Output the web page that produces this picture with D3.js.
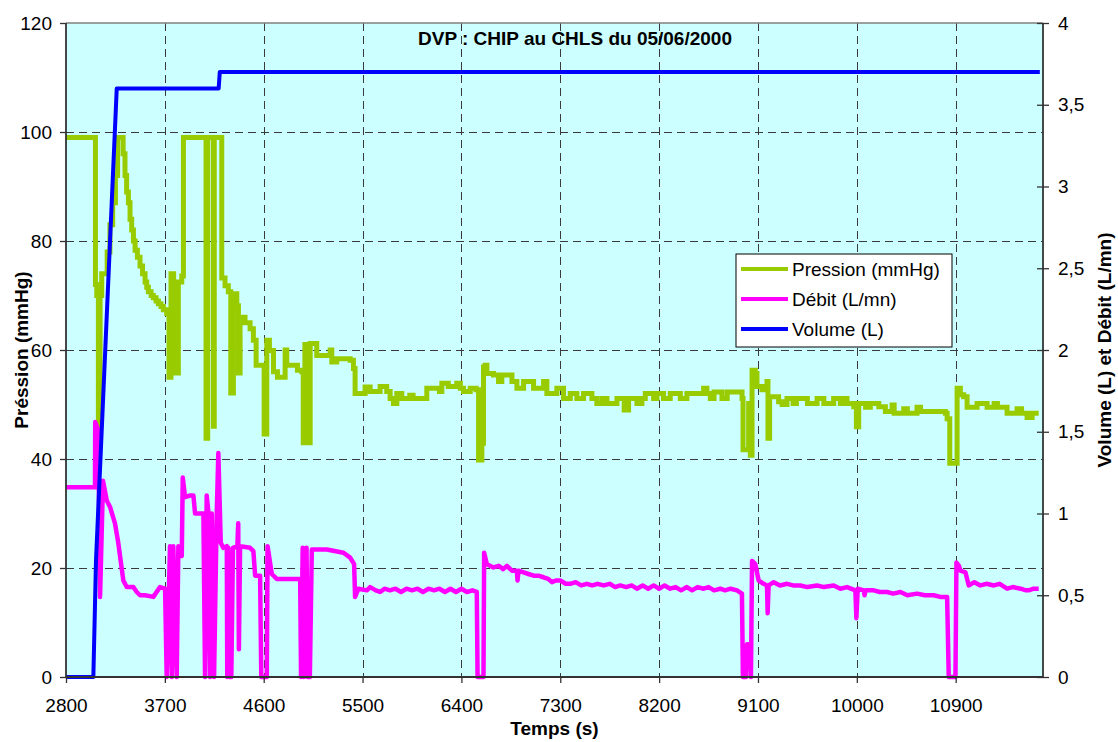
<!DOCTYPE html>
<html>
<head>
<meta charset="utf-8">
<script src="https://cdn.jsdelivr.net/npm/d3@7"></script>
<style>
  body { margin: 0; background: #fff; }
  svg { display: block; font-family: Arial, "Liberation Sans", sans-serif; }
</style>
</head>
<body>
<div id="chart"></div>
<script>
// axis ticks
const xTicks = [2800, 3700, 4600, 5500, 6400, 7300, 8200, 9100, 10000, 10900];
const leftTicks = [0, 20, 40, 60, 80, 100, 120];
const rightTicks = [0, 0.5, 1, 1.5, 2, 2.5, 3, 3.5, 4];
const seriesNames = ["Pression (mmHg)", "Débit (L/mn)", "Volume (L)"];

// Pression (mmHg), left axis
const timePression = [2800, 3064, 3068, 3080, 3095, 3110, 3125, 3150, 3175, 3200, 3225, 3250, 3270, 3305, 3320, 3337, 3352, 3368, 3383, 3398,
  3414, 3429, 3450, 3474, 3497, 3520, 3535, 3550, 3575, 3595, 3620, 3641, 3665, 3686, 3717, 3738, 3756, 3780, 3799, 3823,
  3854, 3869, 4066, 4075, 4090, 4135, 4142, 4150, 4203, 4218, 4248, 4278,
  4300, 4324, 4355, 4370, 4385, 4430, 4476, 4506, 4531, 4567, 4604, 4628, 4652, 4689, 4725, 4765, 4795, 4810, 4886, 4907,
  4947, 4960, 4975, 4990, 5007, 5023, 5083, 5190, 5205, 5220, 5265, 5387, 5417, 5432, 5508, 5523, 5569, 5660, 5720, 5751,
  5781, 5812, 5857, 5930, 5960, 6070, 6085, 6200, 6222, 6280, 6358, 6390, 6419, 6480, 6534, 6556, 6586, 6601, 6616, 6632,
  6692, 6738, 6768, 6844, 6860, 6905, 6966, 7057, 7148, 7178, 7269, 7330, 7391, 7451, 7512, 7588, 7633, 7680, 7725, 7816,
  7882, 7922, 7998, 8043, 8074, 8150, 8180, 8240, 8301, 8393, 8453, 8605, 8635, 8666, 8700, 8772, 8820, 8924, 8955, 8964,
  9000, 9015, 9030, 9046, 9076, 9091, 9137, 9160, 9182, 9191, 9206, 9288, 9320, 9364, 9420, 9450, 9550, 9638, 9700, 9789,
  9850, 9880, 9911, 9972, 9996, 10017, 10080, 10123, 10200, 10260, 10321, 10340, 10427, 10460, 10548, 10580, 10700, 10806, 10822, 10846,
  10898, 10913, 10943, 10973, 11004, 11095, 11186, 11250, 11280, 11368, 11459, 11500, 11550, 11596, 11656];
const pression = [99, 99, 72, 70, 45, 70, 74, 74, 78, 83, 87, 92, 99, 99, 96, 92, 89, 87, 84, 82,
  80, 78.3, 77, 75.4, 74, 72.5, 71.5, 70.7, 70, 69.6, 69, 68.5, 68, 67.4, 66.7, 55, 74, 72.5, 55.8, 72.5,
  73.6, 99, 99, 43.8, 99, 99, 46, 99, 99, 73.2, 71.8, 70.7,
  52.1, 70.3, 68.1, 55.8, 66, 65, 63.9, 61.8, 57.2, 57.2, 44.6, 61.8, 59.9, 56, 55, 55, 60, 57.2, 57.2, 56.3,
  56, 43, 61, 43, 43, 61.2, 59, 59, 60, 57.8, 58.4, 58.1, 56.6, 52, 52, 53.2, 52.4, 53.3, 52.4, 51.1,
  50.2, 52, 51.1, 51.7, 51.1, 51.1, 53, 52.4, 53.9, 53.3, 53.9, 53, 52.4, 53, 52.7, 39.8, 42.9, 56.9, 57.2, 55.7,
  55.4, 54.2, 55.4, 55.4, 54.2, 53, 54.2, 53, 54.2, 52, 53, 51.1, 52, 51.1, 52, 51.1, 50.2, 51.1, 50.2, 51.1,
  49, 51.1, 50.2, 51.1, 52, 51.1, 52, 51.1, 52, 51.1, 52, 53, 52, 51.1, 52.3, 51.1, 52.3, 52.3, 51.1, 41.7,
  41.7, 50.2, 40.7, 56.3, 55.7, 53.3, 52.7, 52.7, 54.2, 43.8, 51.4, 50.5, 50, 51.1, 50.2, 51.1, 50.2, 51.1, 50.2, 51.1,
  50.2, 51.1, 50.2, 49.6, 45.9, 50.2, 49.5, 50.2, 49.6, 48.7, 49.9, 48.4, 49.2, 48.4, 49.5, 48.7, 48.7, 48.4, 47.4, 39.2,
  39.2, 53, 51.8, 51.4, 49.5, 50.2, 49.5, 50.2, 49.5, 48.4, 49.2, 48.4, 47.6, 48.4, 48.4];

// Débit (L/mn), right axis
const timeDebit = [2800, 3064, 3066, 3093, 3110, 3137, 3171, 3201, 3246, 3276, 3292, 3322, 3353, 3413, 3444, 3474, 3520, 3595, 3656, 3702,
  3717, 3747, 3763, 3777, 3808, 3823, 3854, 3863, 3884, 3930, 3960, 3975, 4051, 4066, 4081, 4096, 4112, 4127, 4148, 4172,
  4187, 4209, 4233, 4264, 4268, 4278, 4290, 4305, 4320, 4360, 4368, 4374, 4385, 4476, 4506, 4522, 4567, 4578, 4628, 4635,
  4674, 4719, 4932, 4940, 4955, 4965, 4990, 5000, 5020, 5038, 5175, 5326, 5387, 5423, 5432, 5462, 5539, 5569, 5620, 5660,
  5700, 5750, 5800, 5850, 5900, 5950, 6000, 6050, 6100, 6150, 6200, 6250, 6300, 6350, 6400, 6450, 6500, 6540, 6547, 6601,
  6607, 6632, 6692, 6740, 6780, 6814, 6860, 6905, 6911, 6920, 6966, 7010, 7057, 7100, 7148, 7190, 7224, 7260, 7300, 7350,
  7391, 7440, 7490, 7542, 7590, 7640, 7694, 7750, 7800, 7846, 7900, 7950, 7998, 8050, 8100, 8150, 8200, 8250, 8301, 8350,
  8400, 8453, 8500, 8550, 8605, 8650, 8700, 8757, 8800, 8850, 8909, 8954, 8963, 8991, 9000, 9030, 9036, 9046, 9076, 9106,
  9152, 9182, 9188, 9197, 9243, 9300, 9364, 9420, 9486, 9550, 9638, 9700, 9789, 9850, 9911, 9987, 9996, 10008, 10063, 10070,
  10080, 10154, 10210, 10275, 10330, 10397, 10460, 10548, 10620, 10700, 10760, 10822, 10837, 10898, 10907, 10930, 10943, 10989, 11019, 11070,
  11125, 11180, 11247, 11300, 11368, 11420, 11490, 11540, 11565, 11610, 11656];
const debit = [1.16, 1.16, 1.56, 1.51, 0.49, 1.20, 1.08, 1.04, 0.94, 0.82, 0.74, 0.59, 0.55, 0.55, 0.52, 0.50, 0.50, 0.49, 0.55, 0.54,
  0, 0.80, 0, 0.80, 0, 0.80, 0.74, 1.22, 1.10, 1.11, 1.11, 1.00, 1.00, 0, 1.11, 1.01, 0, 1.00, 0, 0.99,
  1.37, 0.82, 0.79, 0.80, 0, 0.79, 0, 0, 0.79, 0.80, 0.94, 0.17, 0.80, 0.79, 0.77, 0.62, 0.62, 0, 0, 0.80,
  0.63, 0.60, 0.60, 0, 0.79, 0, 0.79, 0, 0, 0.78, 0.78, 0.76, 0.73, 0.69, 0.49, 0.54, 0.53, 0.55, 0.53, 0.52,
  0.54, 0.53, 0.54, 0.52, 0.54, 0.53, 0.54, 0.52, 0.54, 0.53, 0.54, 0.52, 0.54, 0.52, 0.54, 0.52, 0.53, 0.52, 0, 0,
  0.76, 0.69, 0.67, 0.68, 0.66, 0.68, 0.65, 0.65, 0.59, 0.65, 0.64, 0.63, 0.62, 0.62, 0.61, 0.60, 0.58, 0.59, 0.59, 0.57,
  0.57, 0.58, 0.56, 0.57, 0.56, 0.57, 0.56, 0.57, 0.55, 0.56, 0.55, 0.56, 0.54, 0.56, 0.54, 0.56, 0.54, 0.56, 0.54, 0.55,
  0.53, 0.55, 0.53, 0.55, 0.54, 0.55, 0.53, 0.54, 0.53, 0.54, 0.53, 0.51, 0, 0, 0.20, 0.20, 0, 0.71, 0.69, 0.59,
  0.57, 0.56, 0.39, 0.56, 0.58, 0.56, 0.57, 0.56, 0.56, 0.55, 0.56, 0.55, 0.56, 0.54, 0.55, 0.53, 0.36, 0.54, 0.53, 0.50,
  0.53, 0.53, 0.52, 0.52, 0.51, 0.52, 0.50, 0.51, 0.50, 0.50, 0.49, 0.49, 0, 0, 0.70, 0.68, 0.65, 0.64, 0.56, 0.58,
  0.56, 0.57, 0.56, 0.57, 0.54, 0.55, 0.54, 0.53, 0.53, 0.54, 0.54];

// Volume (L), right axis
const timeVolume = [2800, 3049, 3073, 3262, 4190, 4200, 11666];
const volume = [0, 0, 0.71, 3.60, 3.60, 3.70, 3.70];

const width = 1118, height = 742;
const plotL = 66, plotR = 1043, plotT = 23, plotB = 677;

const svg = d3.select("#chart").append("svg")
  .attr("width", width)
  .attr("height", height);

const x = d3.scaleLinear().domain([2800, 11695]).range([plotL, plotR]);
const yL = d3.scaleLinear().domain([0, 120]).range([plotB, plotT]);
const yR = d3.scaleLinear().domain([0, 4]).range([plotB, plotT]);

// plot area
svg.append("rect")
  .attr("x", plotL).attr("y", plotT)
  .attr("width", plotR - plotL).attr("height", plotB - plotT)
  .attr("fill", "#ccffff");

// grid
const grid = svg.append("g")
  .attr("stroke", "#3a3a3a")
  .attr("stroke-width", 1)
  .attr("stroke-dasharray", "8,5");
grid.selectAll("line.h")
  .data(leftTicks.filter(d => d > 0 && d < 120))
  .enter().append("line")
  .attr("class", "h")
  .attr("x1", plotL).attr("x2", plotR)
  .attr("y1", d => Math.round(yL(d)) + 0.5)
  .attr("y2", d => Math.round(yL(d)) + 0.5);
grid.selectAll("line.v")
  .data(xTicks.slice(1))
  .enter().append("line")
  .attr("class", "v")
  .attr("y1", plotT).attr("y2", plotB)
  .attr("x1", d => Math.round(x(d)) + 0.5)
  .attr("x2", d => Math.round(x(d)) + 0.5);

// top border
svg.append("line")
  .attr("x1", plotL).attr("x2", plotR)
  .attr("y1", plotT).attr("y2", plotT)
  .attr("stroke", "#808080").attr("stroke-width", 1.5);

// series
const linePression = d3.line()
  .x((d, i) => x(timePression[i]))
  .y(d => yL(d))
  .curve(d3.curveStepAfter);

const lineRight = times => d3.line()
  .x((d, i) => x(times[i]))
  .y(d => yR(d));

svg.append("path")
  .attr("d", linePression(pression))
  .attr("fill", "none")
  .attr("stroke", "#99cc00")
  .attr("stroke-width", 5)
  .attr("stroke-linejoin", "miter");

svg.append("path")
  .attr("d", lineRight(timeDebit)(debit))
  .attr("fill", "none")
  .attr("stroke", "#ff00ff")
  .attr("stroke-width", 4.5)
  .attr("stroke-linejoin", "round");

svg.append("path")
  .attr("d", lineRight(timeVolume)(volume))
  .attr("fill", "none")
  .attr("stroke", "#0000ff")
  .attr("stroke-width", 4)
  .attr("stroke-linejoin", "round");

// axes
const comma = d => String(d).replace(".", ",");

const axL = svg.append("g")
  .attr("transform", `translate(${plotL},0)`)
  .call(d3.axisLeft(yL).tickValues(leftTicks).tickSize(6).tickPadding(8));
const axR = svg.append("g")
  .attr("transform", `translate(${plotR},0)`)
  .call(d3.axisRight(yR).tickValues(rightTicks).tickSize(6).tickPadding(9).tickFormat(comma));
const axB = svg.append("g")
  .attr("transform", `translate(0,${plotB})`)
  .call(d3.axisBottom(x).tickValues(xTicks).tickSize(6).tickPadding(16).tickFormat(d3.format("d")));

[axL, axR, axB].forEach(ax => {
  ax.select(".domain").attr("stroke", "#333").attr("stroke-width", 1.8);
  ax.selectAll(".tick line").attr("stroke", "#333").attr("stroke-width", 1.3);
  ax.selectAll("text").attr("font-size", 19).attr("fill", "#000")
    .attr("font-family", "Arial, 'Liberation Sans', sans-serif");
});
axL.select(".domain").attr("d", `M0,${plotB}V${plotT}`);
axR.select(".domain").attr("d", `M0,${plotB}V${plotT}`);
axB.select(".domain").attr("d", `M${plotL},0H${plotR}`);
axR.selectAll(".tick line").attr("x1", -6);

// titles
svg.append("text")
  .attr("x", 575).attr("y", 45)
  .attr("text-anchor", "middle")
  .attr("font-size", 19).attr("font-weight", "bold")
  .text("DVP : CHIP au CHLS du 05/06/2000");

svg.append("text")
  .attr("x", (plotL + plotR) / 2).attr("y", 735)
  .attr("text-anchor", "middle")
  .attr("font-size", 19).attr("font-weight", "bold")
  .text("Temps (s)");

svg.append("text")
  .attr("transform", `translate(28,${(plotT + plotB) / 2}) rotate(-90)`)
  .attr("text-anchor", "middle")
  .attr("font-size", 19).attr("font-weight", "bold")
  .text("Préssion (mmHg)");

svg.append("text")
  .attr("transform", `translate(1111,${(plotT + plotB) / 2}) rotate(-90)`)
  .attr("text-anchor", "middle")
  .attr("font-size", 19).attr("font-weight", "bold")
  .text("Volume (L) et Débit (L/mn)");

// legend
const colors = ["#99cc00", "#ff00ff", "#0000ff"];
const legend = svg.append("g").attr("transform", "translate(736,254)");
legend.append("rect")
  .attr("width", 216).attr("height", 93)
  .attr("fill", "#fff").attr("stroke", "#000").attr("stroke-width", 1);
const item = legend.selectAll("g.item")
  .data(seriesNames)
  .enter().append("g")
  .attr("class", "item")
  .attr("transform", (d, i) => `translate(0,${15 + i * 30})`);
item.append("line")
  .attr("x1", 5).attr("x2", 52)
  .attr("stroke", (d, i) => colors[i])
  .attr("stroke-width", 4);
item.append("text")
  .attr("x", 56).attr("dy", "0.35em")
  .attr("font-size", 19)
  .text(d => d);
</script>
</body>
</html>
